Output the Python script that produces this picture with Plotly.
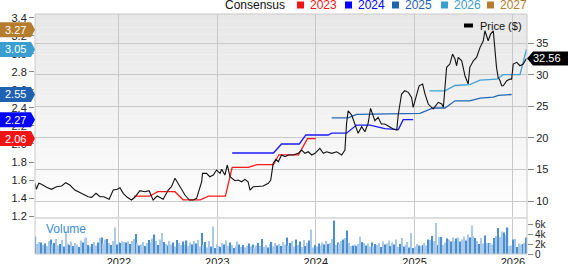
import plotly.graph_objects as go
import pandas as pd

# ---------------- data ----------------
price_dates = [
    "2021-02-24","2021-03-01","2021-03-10","2021-03-20","2021-04-08","2021-04-26","2021-05-15","2021-06-03",
    "2021-06-18","2021-07-03","2021-07-22","2021-08-09","2021-08-22","2021-09-09","2021-09-22","2021-10-08",
    "2021-10-23","2021-11-06","2021-11-26","2021-12-11","2021-12-26","2022-01-05","2022-01-17","2022-02-01",
    "2022-02-17","2022-03-01","2022-03-20","2022-04-07","2022-04-23","2022-05-08","2022-05-23","2022-06-14",
    "2022-07-03","2022-07-15","2022-07-28","2022-08-09","2022-08-21","2022-09-03","2022-09-19","2022-10-04",
    "2022-10-16","2022-10-26","2022-11-04","2022-11-07","2022-11-22","2022-12-04","2022-12-17","2022-12-29",
    "2023-01-11","2023-01-17","2023-01-29","2023-02-07","2023-02-17","2023-03-07","2023-03-19","2023-04-01",
    "2023-04-13","2023-04-25","2023-05-02","2023-05-14","2023-06-02","2023-06-20","2023-07-09","2023-07-18",
    "2023-07-27","2023-08-06","2023-08-15","2023-08-27","2023-09-09","2023-09-21","2023-10-09","2023-10-28",
    "2023-11-09","2023-11-22","2023-12-04","2023-12-17","2023-12-29","2024-01-16","2024-01-29","2024-02-10",
    "2024-02-29","2024-03-18","2024-04-06","2024-04-18","2024-04-24","2024-04-30","2024-05-13","2024-05-25",
    "2024-06-06","2024-06-19","2024-07-01","2024-07-13","2024-07-22","2024-08-07","2024-08-19","2024-08-31",
    "2024-09-12","2024-09-24","2024-10-14","2024-10-27","2024-11-02","2024-11-14","2024-11-26","2024-12-09",
    "2024-12-21","2024-12-27","2025-01-09","2025-01-18","2025-01-31","2025-02-09","2025-02-21","2025-03-11",
    "2025-03-30","2025-04-12","2025-04-18","2025-04-24","2025-04-30","2025-05-12","2025-05-22","2025-05-31",
    "2025-06-06","2025-06-12","2025-06-25","2025-07-07","2025-07-13","2025-07-19","2025-07-25","2025-08-07",
    "2025-08-19","2025-09-01","2025-09-13","2025-09-19","2025-10-01","2025-10-10","2025-10-20","2025-10-26",
    "2025-11-01","2025-11-07","2025-11-14","2025-11-20","2025-11-26","2025-12-09","2025-12-21","2025-12-27",
    "2026-01-02","2026-01-15","2026-01-27","2026-02-08","2026-02-15","2026-02-20",
]
price_values = [
    12.80, 11.85, 12.80, 12.64, 12.17, 11.85, 12.26, 12.37,
    12.90, 12.53, 11.74, 11.38, 11.06, 10.68, 10.59, 11.22,
    10.68, 10.68, 10.27, 11.74, 11.85, 12.10, 11.22, 10.59,
    10.16, 10.59, 11.63, 11.47, 11.63, 10.16, 10.79, 10.27,
    11.74, 12.26, 13.59, 12.80, 12.01, 10.95, 10.16, 10.16,
    10.43, 11.63, 13.05, 14.38, 14.38, 13.84, 14.11, 14.91,
    14.38, 15.02, 14.11, 15.70, 13.84, 13.21, 13.32, 13.05,
    13.43, 13.05, 11.74, 12.26, 12.26, 12.37, 12.80, 13.32,
    15.97, 16.60, 16.22, 17.28, 17.01, 17.28, 17.28, 17.55,
    18.07, 17.55, 17.80, 17.28, 17.55, 18.34, 17.55, 17.80,
    17.55, 17.80, 17.28, 18.07, 22.29, 24.29, 23.61, 22.03,
    20.71, 21.76, 20.97, 22.29, 24.67, 22.71, 23.24, 22.18,
    22.18, 21.91, 21.39, 21.23, 23.77, 26.93, 27.45, 27.20,
    26.41, 24.83, 26.93, 28.24, 28.51, 26.93, 25.35, 24.56,
    25.62, 25.35, 24.83, 27.45, 31.16, 31.68, 33.26, 32.47,
    31.41, 32.74, 32.20, 29.83, 29.30, 28.51, 31.16, 32.20,
    32.74, 34.32, 35.36, 36.95, 35.36, 36.42, 36.95, 33.26,
    31.16, 29.57, 29.03, 28.24, 28.24, 29.03, 29.30, 29.30,
    31.68, 31.95, 31.41, 31.68, 32.20, 32.56,
]

eps_2023_dates = ["2022-02-26","2022-04-25","2022-05-25","2022-07-28","2022-08-27","2022-10-30","2022-11-29",
                  "2023-01-31","2023-02-25","2023-04-26","2023-05-28","2023-07-28","2023-08-17","2023-10-29",
                  "2023-12-01","2024-01-01"]
eps_2023_values = [1.42, 1.42, 1.47, 1.47, 1.38, 1.38, 1.42, 1.42, 1.74, 1.74, 1.77, 1.77, 1.88, 1.88, 2.06, 2.06]

eps_2024_dates = ["2023-02-25","2023-07-28","2023-08-27","2023-11-01","2023-11-25","2024-02-16","2024-02-29",
                  "2024-04-24","2024-05-31","2024-07-20","2024-09-13","2024-11-02","2024-11-20","2024-12-27"]
eps_2024_values = [1.90, 1.90, 2.00, 2.00, 2.10, 2.10, 2.12, 2.12, 2.21, 2.21, 2.17, 2.16, 2.27, 2.27]

eps_2025_dates = ["2024-02-29","2024-04-30","2024-05-31","2025-01-21","2025-03-11","2025-04-24","2025-05-31",
                  "2025-07-25","2025-09-01","2025-10-20","2025-11-08","2025-12-27"]
eps_2025_values = [2.29, 2.29, 2.33, 2.34, 2.40, 2.40, 2.48, 2.48, 2.51, 2.52, 2.54, 2.55]

eps_2026_dates = ["2025-02-25","2025-04-24","2025-05-31","2025-07-25","2025-09-01","2025-11-02","2025-11-26",
                  "2026-01-27","2026-02-20"]
eps_2026_values = [2.59, 2.59, 2.65, 2.66, 2.71, 2.72, 2.77, 2.77, 3.05]

eps_2027_value = 3.27
last_price = 32.56

consensus_years = ["2023", "2024", "2025", "2026", "2027"]
consensus_latest = [2.06, 2.27, 2.55, 3.05, 3.27]

volume_start = "2021-02-26"
volume_k = [
    3.5, 2.0, 2.4, 2.3, 1.8, 2.1, 1.6, 2.6, 2.9, 1.9,
    2.2, 3.0, 1.7, 2.0, 2.8, 1.5, 4.5, 2.1, 1.8, 2.5,
    1.6, 2.2, 1.9, 1.4, 2.7, 2.3, 3.1, 3.3, 1.8, 1.5,
    2.0, 2.4, 1.7, 2.3, 3.2, 3.3, 2.1, 2.9, 3.0, 2.2,
    1.8, 2.6, 5.3, 1.9, 2.4, 2.2, 2.6, 2.4, 2.3, 2.5,
    2.0, 2.6, 3.0, 4.0, 2.2, 1.7, 1.9, 2.4, 1.6, 2.2,
    2.8, 2.3, 3.1, 3.9, 2.6, 1.8, 2.9, 4.2, 2.4, 2.0,
    1.7, 2.6, 1.9, 2.3, 1.5, 2.8, 2.2, 1.8, 2.5, 1.9,
    2.7, 1.6, 2.3, 1.9, 2.6, 2.1, 2.8, 1.5, 4.2, 1.8,
    2.4, 1.3, 2.6, 1.5, 5.5, 1.2, 2.0, 1.6, 1.4, 2.2,
    1.9, 2.7, 1.6, 2.3, 1.8, 1.2, 1.7, 2.5, 1.9, 1.4,
    1.8, 1.3, 1.6, 2.1, 1.5, 1.9, 1.3, 1.7, 2.2, 1.6,
    3.0, 1.4, 1.8, 1.3, 2.0, 2.4, 1.5, 2.2, 1.7, 2.0,
    1.6, 2.4, 1.9, 3.3, 1.7, 2.2, 2.6, 1.5, 2.9, 1.8,
    2.5, 1.4, 2.8, 1.6, 2.2, 2.7, 4.9, 1.3, 1.8, 1.5,
    2.1, 1.7, 2.3, 1.9, 2.6, 2.0, 2.2, 3.0, 6.7, 1.8,
    2.3, 2.1, 2.6, 2.9, 3.2, 4.7, 2.2, 1.6, 1.7, 1.9,
    1.6, 2.0, 3.5, 2.4, 2.2, 1.7, 2.1, 1.5, 2.3, 1.6,
    2.0, 1.8, 2.2, 1.4, 2.5, 1.9, 2.1, 2.7, 1.6, 2.3,
    1.9, 2.9, 1.4, 2.0, 3.2, 1.5, 1.8, 2.4, 1.3, 4.2,
    1.2, 1.5, 2.0, 1.7, 1.6, 1.8, 2.2, 1.7, 2.9, 2.8,
    3.6, 2.6, 6.2, 1.8, 3.4, 3.4, 1.8, 2.3, 3.1, 2.9,
    2.5, 3.3, 2.6, 3.1, 3.3, 2.5, 2.9, 3.5, 2.7, 3.9,
    3.3, 5.7, 3.6, 3.2, 2.6, 2.0, 3.2, 2.1, 3.7, 2.2,
    2.2, 2.2, 1.9, 3.2, 3.6, 5.2, 3.4, 4.5, 4.3, 3.8,
    5.3, 1.6, 1.7, 2.9, 3.0, 1.4, 2.1, 1.9, 2.0, 2.2, 3.3,
]

year_ticks = ["2022", "2023", "2024", "2025", "2026"]

# ---------------- layout geometry / styles ----------------
W, H = 568, 264
ML, MR, MT, MB = 35, 41, 14, 10
PW, PH = W - ML - MR, H - MT - MB
FONT = "Liberation Sans, Arial, sans-serif"

def fx(px):
    return (px - ML) / PW

def fy(py):
    return (H - MB - py) / PH

PRICE_DOM = [fy(217), 1.0]
VOL_DOM = [0.0, fy(219)]
EPS_RANGE = [1.189, 3.444]
PRICE_RANGE = [7.47, 39.6]
X_RANGE = ["2021-02-24", "2026-02-22"]

def eps_to_paper(v):
    return PRICE_DOM[0] + (v - EPS_RANGE[0]) / (EPS_RANGE[1] - EPS_RANGE[0]) * (PRICE_DOM[1] - PRICE_DOM[0])

def price_to_paper(v):
    return PRICE_DOM[0] + (v - PRICE_RANGE[0]) / (PRICE_RANGE[1] - PRICE_RANGE[0]) * (PRICE_DOM[1] - PRICE_DOM[0])

year_colors = ["#ff1a1a", "#1a1aff", "#2466b8", "#40a2d4", "#b27d2f"]
badge_colors = ["#f01515", "#0000ff", "#1f62b3", "#3a9fd0", "#b47c2c"]
vol_light, vol_dark = "#a9c9ea", "#4a8fd2"

fig = go.Figure()

# EPS consensus lines (left axis)
for dts, vals, col in [
    (eps_2023_dates, eps_2023_values, year_colors[0]),
    (eps_2024_dates, eps_2024_values, year_colors[1]),
    (eps_2025_dates, eps_2025_values, year_colors[2]),
    (eps_2026_dates, eps_2026_values, year_colors[3]),
]:
    fig.add_trace(go.Scatter(x=dts, y=vals, mode="lines", line=dict(color=col, width=1.3),
                             xaxis="x", yaxis="y", hoverinfo="skip", showlegend=False))

# Price line (right axis, overlaying)
fig.add_trace(go.Scatter(x=price_dates, y=price_values, mode="lines",
                         line=dict(color="#111111", width=1.1),
                         xaxis="x", yaxis="y2", showlegend=False))

# Volume bars
vol_dates = pd.date_range(start=volume_start, periods=len(volume_k), freq="7D")
vol_colors = [vol_dark if i % 5 in (0, 3) else vol_light for i in range(len(volume_k))]
fig.add_trace(go.Bar(x=vol_dates, y=[v * 1000 for v in volume_k], marker=dict(color=vol_colors, line=dict(width=0)),
                     xaxis="x2", yaxis="y3", showlegend=False))

shapes = []
annotations = []

# gradient background of price pane
n = 30
top_px, bot_px = MT, 217
for i in range(n):
    p0 = top_px + (bot_px - top_px) * i / n
    p1 = top_px + (bot_px - top_px) * (i + 1) / n
    c = int(231 + (255 - 231) * (i + 0.5) / n)
    shapes.append(dict(type="rect", xref="paper", yref="paper", x0=0, x1=1, y0=fy(p1), y1=fy(p0),
                       fillcolor=f"rgb({c},{c},{c})", line=dict(width=0), layer="below"))

# separator band between panes
shapes.append(dict(type="rect", xref="paper", yref="paper", x0=0, x1=1, y0=fy(219), y1=fy(217),
                   fillcolor="#dedede", line=dict(width=0), layer="above"))
# frame
shapes.append(dict(type="rect", xref="paper", yref="paper", x0=0, x1=1, y0=0, y1=1,
                   fillcolor="rgba(0,0,0,0)", line=dict(color="#c8c8c8", width=1), layer="above"))

# left badges (latest consensus)
for yr, val, col in zip(consensus_years, consensus_latest, badge_colors):
    yp = eps_to_paper(val)
    shapes.append(dict(type="path", xref="paper", yref="paper", xsizemode="pixel", ysizemode="pixel",
                       xanchor=0, yanchor=yp,
                       path="M -35,-7.5 L -4,-7.5 L 0,0 L -4,7.5 L -35,7.5 Z",
                       fillcolor=col, line=dict(width=0), layer="above"))
    annotations.append(dict(xref="paper", yref="paper", x=0, y=yp, xshift=-20, text=f"{val:.2f}",
                            showarrow=False, xanchor="center", yanchor="middle",
                            font=dict(family=FONT, size=11, color="white")))

# right price badge
yp = price_to_paper(last_price)
shapes.append(dict(type="path", xref="paper", yref="paper", xsizemode="pixel", ysizemode="pixel",
                   xanchor=1, yanchor=yp,
                   path="M 0,0 L 6,-7 L 41,-7 L 41,7 L 6,7 Z",
                   fillcolor="#000000", line=dict(width=0), layer="above"))
annotations.append(dict(xref="paper", yref="paper", x=1, y=yp, xshift=20, text=f"{last_price:.2f}",
                        showarrow=False, xanchor="center", yanchor="middle",
                        font=dict(family=FONT, size=11, color="white")))

# top legend: Consensus + years
annotations.append(dict(xref="paper", yref="paper", x=fx(223), y=fy(5), text="Consensus", showarrow=False,
                        xanchor="left", yanchor="middle", font=dict(family=FONT, size=12, color="#111111")))
sq_x = [297, 345, 392, 441, 487]
for yr, col, sx in zip(consensus_years, badge_colors, sq_x):
    shapes.append(dict(type="rect", xref="paper", yref="paper", x0=fx(sx), x1=fx(sx + 7), y0=fy(8.5), y1=fy(1.5),
                       fillcolor=col, line=dict(width=0), layer="above"))
    annotations.append(dict(xref="paper", yref="paper", x=fx(sx + 11), y=fy(5), text=yr, showarrow=False,
                            xanchor="left", yanchor="middle", font=dict(family=FONT, size=12, color=col)))

# Price legend
shapes.append(dict(type="rect", xref="paper", yref="paper", x0=fx(464), x1=fx(473), y0=fy(27.5), y1=fy(23.5),
                   fillcolor="#000000", line=dict(width=0), layer="above"))
annotations.append(dict(xref="paper", yref="paper", x=fx(478), y=fy(26), text="Price ($)", showarrow=False,
                        xanchor="left", yanchor="middle", font=dict(family=FONT, size=11, color="#111111")))

# Volume label
annotations.append(dict(xref="paper", yref="paper", x=fx(44), y=fy(229), text="Volume", showarrow=False,
                        xanchor="left", yanchor="middle", font=dict(family=FONT, size=12, color="#3b8ed4")))

tickfont = dict(family=FONT, size=11, color="#222222")

fig.update_layout(
    width=W, height=H,
    margin=dict(l=ML, r=MR, t=MT, b=MB, pad=0),
    paper_bgcolor="white", plot_bgcolor="rgba(0,0,0,0)",
    showlegend=False, bargap=0.35,
    shapes=shapes, annotations=annotations,
    xaxis=dict(domain=[0, 1], anchor="y", type="date", range=X_RANGE,
               tick0="2022-01-01", dtick="M12", showticklabels=False,
               showgrid=True, gridcolor="#c8c8c8", gridwidth=1, zeroline=False, ticks=""),
    yaxis=dict(domain=PRICE_DOM, anchor="x", side="left", range=EPS_RANGE,
               tick0=1.2, dtick=0.2, tickformat=".1f", showgrid=False, zeroline=False,
               ticks="outside", ticklen=5, tickcolor="#888888", tickfont=tickfont, automargin=False),
    yaxis2=dict(overlaying="y", anchor="x", side="right", range=PRICE_RANGE,
                tick0=10, dtick=5, showgrid=True, gridcolor="#c8c8c8", gridwidth=1, zeroline=False,
                ticks="outside", ticklen=6, tickcolor="#888888", tickfont=tickfont, automargin=False),
    xaxis2=dict(domain=[0, 1], anchor="y3", type="date", range=X_RANGE, matches="x",
                tickvals=[f"{y}-01-01" for y in year_ticks], ticktext=year_ticks,
                showgrid=True, gridcolor="#c8c8c8", gridwidth=1, zeroline=False, ticks="",
                tickfont=tickfont, automargin=False),
    yaxis3=dict(domain=VOL_DOM, anchor="x2", side="right", range=[0, 7000],
                tickvals=[0, 2000, 4000, 6000], ticktext=["0", "2k", "4k", "6k"],
                showgrid=False, zeroline=False, ticks="outside", ticklen=5, tickcolor="#888888",
                tickfont=dict(family=FONT, size=10, color="#222222"), automargin=False),
)

fig.write_html("out.html")
